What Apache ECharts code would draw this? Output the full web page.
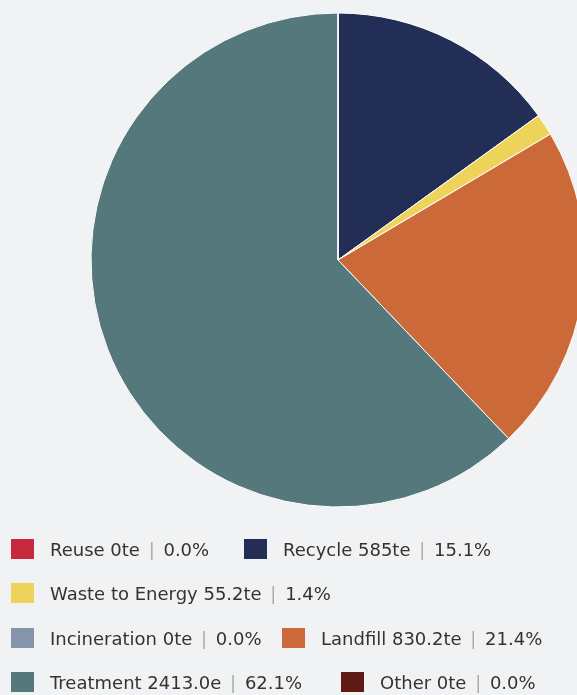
<!DOCTYPE html>
<html><head><meta charset="utf-8">
<script src="https://cdn.jsdelivr.net/npm/echarts@6/dist/echarts.min.js"></script>
<style>html,body{margin:0;padding:0;background:#f1f2f4;}#c{width:577px;height:695px;}</style>
</head><body><div id="c"></div>
<script>
const categories = ['Reuse','Recycle','Waste to Energy','Incineration','Landfill','Treatment','Other'];
const values = [0, 585, 55.2, 0, 830.2, 2413.0, 0];
const valueLabels = ['0te','585te','55.2te','0te','830.2te','2413.0e','0te'];
const percentLabels = ['0.0%','15.1%','1.4%','0.0%','21.4%','62.1%','0.0%'];
const colors = ['#c62a3c','#222e55','#eed35b','#8594a8','#cc6939','#54787b','#5e1a14'];

const legendPos = [[11,539],[244,539],[11,583],[11,628],[282,628],[11,672],[341,672]];
const chart = echarts.init(document.getElementById('c'));
const legends = categories.map((c,i)=>({
  data:[c], left:legendPos[i][0], top:legendPos[i][1], itemWidth:23, itemHeight:20, icon:'rect',
  padding:0, itemStyle:{borderWidth:0},
  formatter: n => `${n} ${valueLabels[i]} {s||} ${percentLabels[i]}`,
  textStyle:{fontFamily:'DejaVu Sans', fontSize:18, color:'#333', padding:[4,0,0,11],
    rich:{s:{color:'#aaa', fontSize:18, fontFamily:'DejaVu Sans', padding:[0,3,0,3]}}}
}));
chart.setOption({
  backgroundColor:'#f1f2f4',
  color: colors,
  legend: legends,
  series:[{
    type:'pie', center:[338,260], radius:247, startAngle:90, clockwise:true,
    label:{show:false}, labelLine:{show:false}, silent:true,
    itemStyle:{borderColor:'#fff', borderWidth:1},
    data: categories.map((c,i)=>({name:c, value:values[i]}))
  }]
});
</script></body></html>
